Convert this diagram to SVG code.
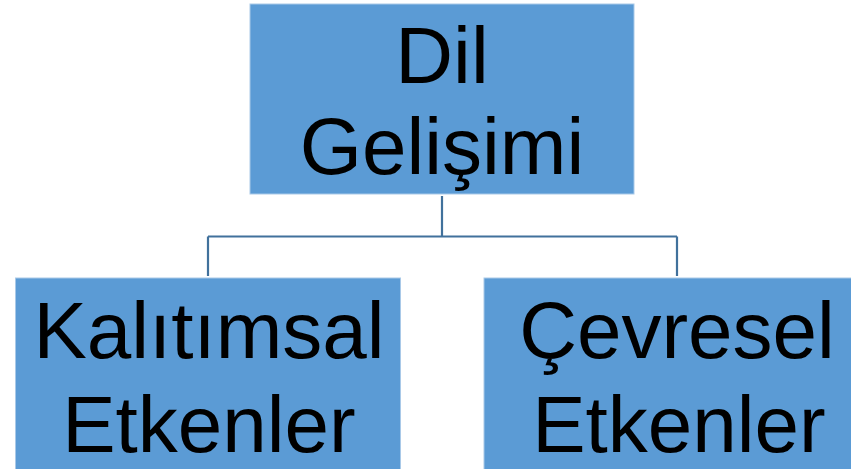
<svg xmlns="http://www.w3.org/2000/svg" width="851" height="469" viewBox="0 0 851 469">
  <style>
    .box { fill: #5B9BD5; stroke: #A9C9E8; stroke-width: 1; }
    .label { font-family: "Liberation Sans", Arial, sans-serif; font-size: 80px; fill: #000; text-anchor: middle; }
    .link { fill: none; stroke: #41719C; stroke-width: 2.2; }
  </style>
  <rect width="851" height="469" fill="#fff"/>
  <g id="connectors">
    <path class="link" d="M442,196 V236.5 M208,236.5 H677 M208,236.5 V276 M677,236.5 V276"/>
  </g>
  <g id="dil-gelisimi">
    <rect class="box" x="250" y="4" width="384" height="190"/>
    <text class="label" x="442" y="83">Dil</text>
    <text class="label" x="442" y="174">Gelişimi</text>
  </g>
  <g id="kalitimsal-etkenler">
    <rect class="box" x="15.5" y="278" width="385" height="200"/>
    <text class="label" x="209" y="358">Kalıtımsal</text>
    <text class="label" x="209" y="452">Etkenler</text>
  </g>
  <g id="cevresel-etkenler">
    <rect class="box" x="484" y="278" width="385" height="200"/>
    <text class="label" x="677" y="358">Çevresel</text>
    <text class="label" x="679" y="452">Etkenler</text>
  </g>
</svg>
